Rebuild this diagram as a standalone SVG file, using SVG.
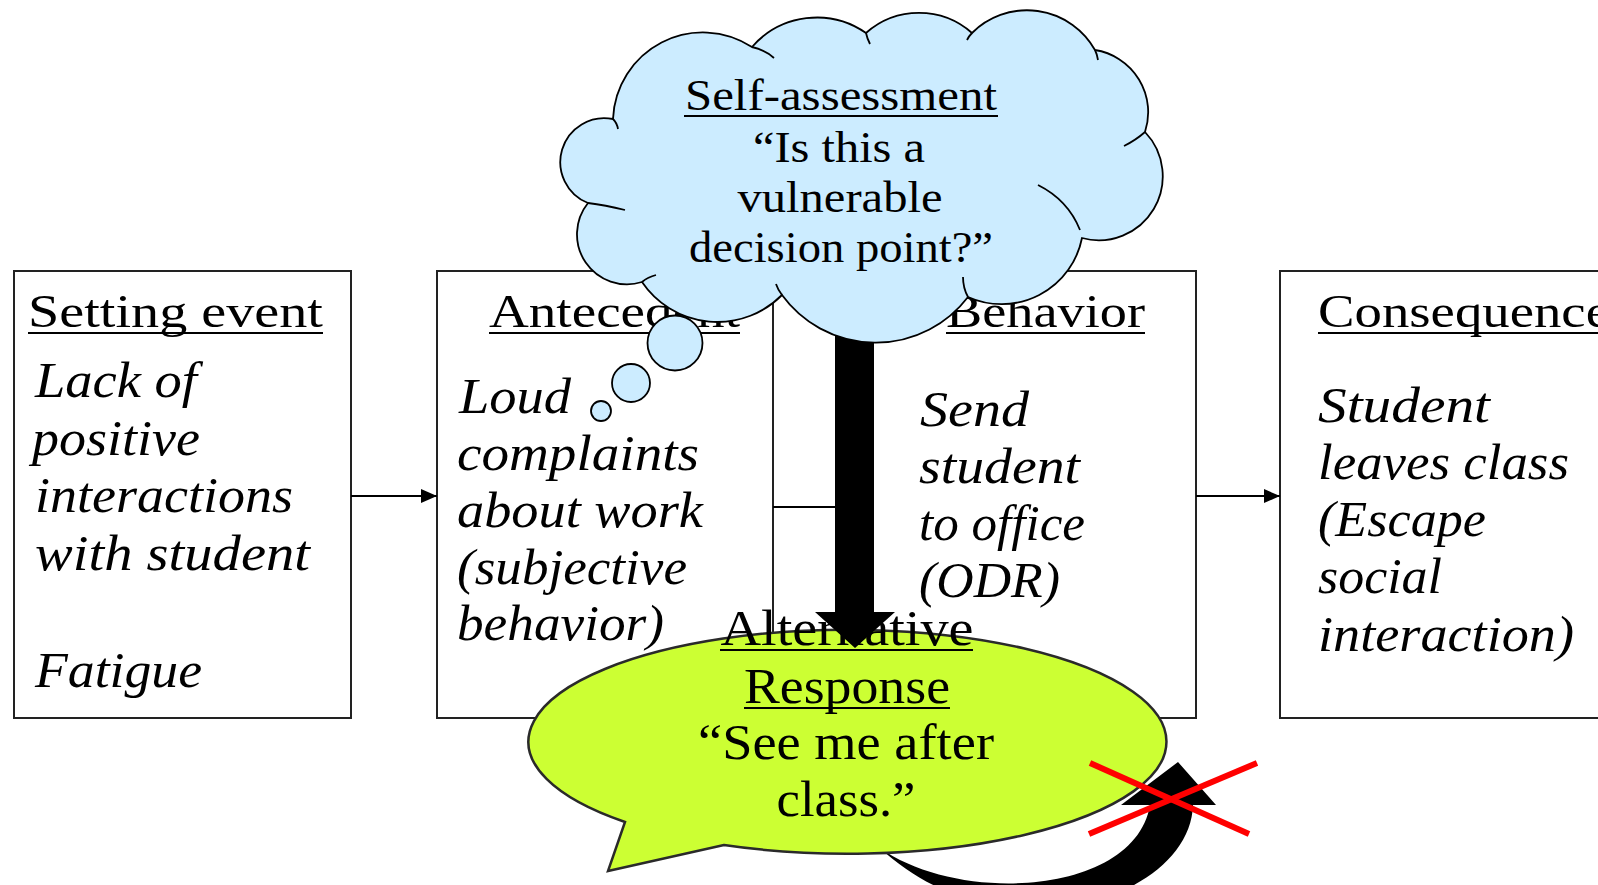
<svg xmlns="http://www.w3.org/2000/svg" width="1598" height="885" viewBox="0 0 1598 885">
<style>
.box{fill:#fff;stroke:#222;stroke-width:2}
.title{font-family:"Liberation Serif","Times New Roman",serif;font-size:46px;fill:#000}
.body{font-family:"Liberation Serif","Times New Roman",serif;font-size:50px;font-style:italic;fill:#000}
.ctext{font-family:"Liberation Serif","Times New Roman",serif;font-size:45px;fill:#000;text-anchor:middle}
.gtext{font-family:"Liberation Serif","Times New Roman",serif;font-size:50px;fill:#000;text-anchor:middle}
.ul{stroke:#000;stroke-width:2.2}
.conn{stroke:#000;stroke-width:2;fill:none}
.cloud{fill:#CCECFF;stroke:#000;stroke-width:1.8}
.curl{fill:none;stroke:#000;stroke-width:1.8}
.x{stroke:#FF0000;stroke-width:6;stroke-linecap:butt}
</style>
<defs>
<marker id="ah" markerUnits="userSpaceOnUse" markerWidth="16" markerHeight="14" refX="16" refY="7" orient="auto">
<path d="M0,0 L16,7 L0,14 z" fill="#000"/>
</marker>
</defs>

<g id="node-setting">
<rect class="box" x="14" y="271" width="337" height="447"/>
<text class="title" x="28" y="327" textLength="295" lengthAdjust="spacingAndGlyphs">Setting event</text>
<line class="ul" x1="28" y1="333" x2="323" y2="333"/>
<text class="body" x="35" y="397" textLength="162" lengthAdjust="spacingAndGlyphs">Lack of</text>
<text class="body" x="32" y="455" textLength="168" lengthAdjust="spacingAndGlyphs">positive</text>
<text class="body" x="35" y="512" textLength="258" lengthAdjust="spacingAndGlyphs">interactions</text>
<text class="body" x="35" y="570" textLength="275" lengthAdjust="spacingAndGlyphs">with student</text>
<text class="body" x="35" y="687" textLength="167" lengthAdjust="spacingAndGlyphs">Fatigue</text>
</g>

<g id="node-antecedent">
<rect class="box" x="437" y="271" width="336" height="447"/>
<text class="title" x="489" y="327" textLength="251" lengthAdjust="spacingAndGlyphs">Antecedent</text>
<line class="ul" x1="489" y1="333" x2="740" y2="333"/>
<text class="body" x="459" y="413" textLength="112" lengthAdjust="spacingAndGlyphs">Loud</text>
<text class="body" x="457" y="470" textLength="242" lengthAdjust="spacingAndGlyphs">complaints</text>
<text class="body" x="457" y="527" textLength="246" lengthAdjust="spacingAndGlyphs">about work</text>
<text class="body" x="457" y="584" textLength="230" lengthAdjust="spacingAndGlyphs">(subjective</text>
<text class="body" x="457" y="640" textLength="207" lengthAdjust="spacingAndGlyphs">behavior)</text>
</g>

<g id="node-behavior">
<rect class="box" x="859" y="271" width="337" height="447"/>
<text class="title" x="946" y="327" textLength="199" lengthAdjust="spacingAndGlyphs">Behavior</text>
<line class="ul" x1="946" y1="333" x2="1145" y2="333"/>
<text class="body" x="920" y="426" textLength="109" lengthAdjust="spacingAndGlyphs">Send</text>
<text class="body" x="919" y="483" textLength="161" lengthAdjust="spacingAndGlyphs">student</text>
<text class="body" x="919" y="540" textLength="166" lengthAdjust="spacingAndGlyphs">to office</text>
<text class="body" x="919" y="597" textLength="141" lengthAdjust="spacingAndGlyphs">(ODR)</text>
</g>

<g id="node-consequence">
<rect class="box" x="1280" y="271" width="400" height="447"/>
<text class="title" x="1318" y="327" textLength="292" lengthAdjust="spacingAndGlyphs">Consequence</text>
<line class="ul" x1="1318" y1="333" x2="1610" y2="333"/>
<text class="body" x="1318" y="422" textLength="172" lengthAdjust="spacingAndGlyphs">Student</text>
<text class="body" x="1318" y="479" textLength="251" lengthAdjust="spacingAndGlyphs">leaves class</text>
<text class="body" x="1318" y="536" textLength="168" lengthAdjust="spacingAndGlyphs">(Escape</text>
<text class="body" x="1318" y="593" textLength="124" lengthAdjust="spacingAndGlyphs">social</text>
<text class="body" x="1318" y="651" textLength="256" lengthAdjust="spacingAndGlyphs">interaction)</text>
</g>

<g id="connectors">
<line class="conn" x1="351" y1="496" x2="437" y2="496" marker-end="url(#ah)"/>
<line class="conn" x1="773" y1="507" x2="859" y2="507" marker-end="url(#ah)"/>
<line class="conn" x1="1196" y1="496" x2="1280" y2="496" marker-end="url(#ah)"/>
</g>

<g id="curved-arrow">
<path d="M880,848 C960,905 1135,895 1150,805 L1121,805 L1178,762 L1216,805 L1193,805 C1190,900 1000,960 880,848 Z" fill="#000"/>
</g>

<g id="node-alternative">
<path d="M724,845 L608,871 L625,822 A319 112 0 1 1 724,845 Z" fill="#CCFF33" stroke="#2a2a2a" stroke-width="2.5" stroke-linejoin="miter"/>
<text class="gtext" x="847" y="645" textLength="253" lengthAdjust="spacingAndGlyphs">Alternative</text>
<line class="ul" x1="720" y1="650" x2="973" y2="650"/>
<text class="gtext" x="847" y="703" textLength="206" lengthAdjust="spacingAndGlyphs">Response</text>
<line class="ul" x1="744" y1="708" x2="950" y2="708"/>
<text class="gtext" x="846" y="759" textLength="296" lengthAdjust="spacingAndGlyphs">“See me after</text>
<text class="gtext" x="846" y="816" textLength="139" lengthAdjust="spacingAndGlyphs">class.”</text>
</g>

<g id="down-arrow">
<path d="M835,320 L874,320 L874,612 L895,612 L855,648 L815,612 L835,612 Z" fill="#000"/>
</g>

<g id="node-self-assessment">
<path class="cloud" d="M613,119 A90 90 0 0 1 752,47 A86 86 0 0 1 866,33 A80 80 0 0 1 972,33 A78 78 0 0 1 1095,50 A63 63 0 0 1 1145,132 A64 64 0 0 1 1082,238 A82 82 0 0 1 968,297 A116 116 0 0 1 782,295 A91 91 0 0 1 642,282 A50 50 0 0 1 588,203 A44 44 0 0 1 613,119 Z"/>
<path class="curl" d="M613,119 Q617,123 618,129 M752,47 Q765,50 774,58 M866,33 Q867,38 870,44 M972,33 Q969,36 967,40 M1095,50 Q1097,54 1098,60 M1145,132 Q1136,140 1124,146 M1038,185 Q1068,200 1080,230 M968,297 Q963,288 963,277 M782,295 Q778,290 776,284 M642,282 Q648,277 656,275 M588,203 Q605,205 625,210"/>
<circle class="cloud" cx="675" cy="343" r="27.5"/>
<circle class="cloud" cx="631" cy="383" r="19"/>
<circle class="cloud" cx="601" cy="411" r="10"/>
<text class="ctext" x="841" y="110" textLength="312" lengthAdjust="spacingAndGlyphs">Self-assessment</text>
<line class="ul" x1="684" y1="116" x2="998" y2="116"/>
<text class="ctext" x="839" y="162" textLength="172" lengthAdjust="spacingAndGlyphs">“Is this a</text>
<text class="ctext" x="840" y="212" textLength="205" lengthAdjust="spacingAndGlyphs">vulnerable</text>
<text class="ctext" x="841" y="262" textLength="304" lengthAdjust="spacingAndGlyphs">decision point?”</text>
</g>

<g id="cross">
<line class="x" x1="1090" y1="763" x2="1249" y2="834"/>
<line class="x" x1="1089" y1="834" x2="1257" y2="763"/>
</g>
</svg>
